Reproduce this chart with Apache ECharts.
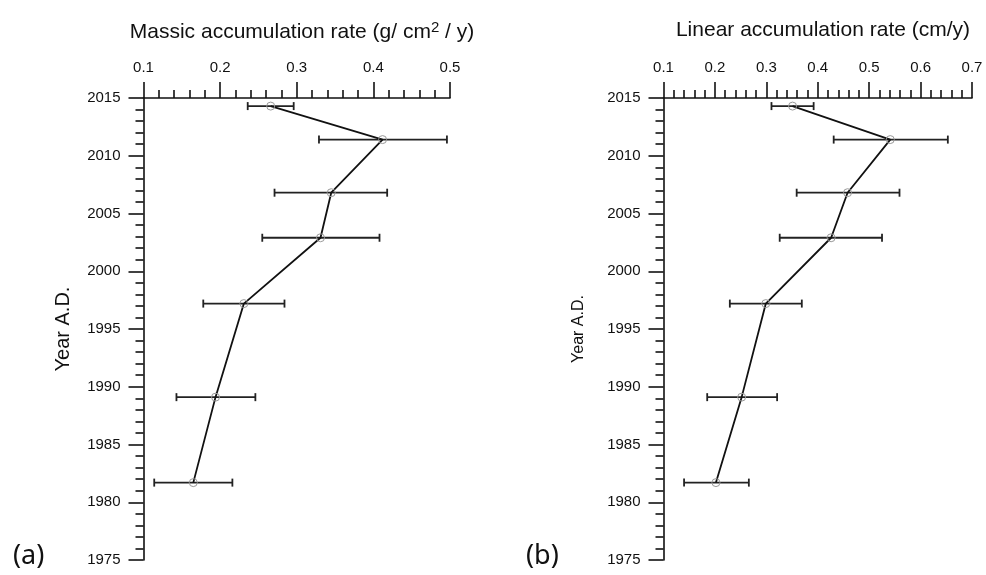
<!DOCTYPE html>
<html>
<head>
<meta charset="utf-8">
<script src="https://cdn.jsdelivr.net/npm/echarts@6/dist/echarts.min.js"></script>
<style>
html, body { margin: 0; padding: 0; background: #fff; }
#main { width: 986px; height: 575px; }
</style>
</head>
<body>
<div id="main"></div>
<script>
// sampling years (A.D.)
var years = [2014.3, 2011.4, 2006.8, 2002.9, 1997.2, 1989.1, 1981.7];

// (a) massic accumulation rate, g/cm2/y
var massic = [0.266, 0.412, 0.345, 0.331, 0.231, 0.194, 0.165];
var massicLow = [0.236, 0.329, 0.271, 0.255, 0.178, 0.143, 0.114];
var massicHigh = [0.296, 0.496, 0.418, 0.408, 0.284, 0.246, 0.216];

// (b) linear accumulation rate, cm/y
var linear = [0.351, 0.541, 0.458, 0.426, 0.299, 0.252, 0.202];
var linearLow = [0.310, 0.431, 0.359, 0.326, 0.229, 0.185, 0.140];
var linearHigh = [0.392, 0.653, 0.559, 0.525, 0.369, 0.321, 0.266];

var FONT = 'Liberation Sans';

function pairs(xs) {
    return xs.map(function (v, i) { return [v, years[i]]; });
}
function bars(lo, hi) {
    return lo.map(function (v, i) { return [v, hi[i], years[i]]; });
}

function errorBar(params, api) {
    var y = api.value(2);
    var a = api.coord([api.value(0), y]);
    var b = api.coord([api.value(1), y]);
    var h = 4;
    var st = { stroke: '#222', lineWidth: 1.8 };
    return {
        type: 'group',
        children: [
            { type: 'line', shape: { x1: a[0], y1: a[1], x2: b[0], y2: b[1] }, style: st },
            { type: 'line', shape: { x1: a[0], y1: a[1] - h, x2: a[0], y2: a[1] + h }, style: st },
            { type: 'line', shape: { x1: b[0], y1: b[1] - h, x2: b[0], y2: b[1] + h }, style: st }
        ]
    };
}

function xAx(idx, max) {
    return {
        type: 'value', gridIndex: idx, position: 'top',
        min: 0.1, max: max, interval: 0.1,
        axisLine: { show: true, onZero: false, lineStyle: { color: '#111', width: 1.6 } },
        axisTick: { show: true, length: 16, lineStyle: { color: '#111', width: 1.6 } },
        minorTick: { show: true, splitNumber: 5, length: 8, lineStyle: { color: '#111', width: 1.6 } },
        splitLine: { show: false },
        axisLabel: {
            margin: 23, color: '#111', fontFamily: FONT, fontSize: 15,
            formatter: function (v) { return v.toFixed(1); }
        }
    };
}

function yAx(idx, nameSize, gap) {
    return {
        type: 'value', gridIndex: idx,
        min: 1975, max: 2015, interval: 5,
        name: 'Year A.D.', nameLocation: 'middle', nameRotate: 90, nameGap: gap,
        nameTextStyle: { color: '#111', fontFamily: FONT, fontSize: nameSize },
        axisLine: { show: true, onZero: false, lineStyle: { color: '#111', width: 1.6 } },
        axisTick: { show: true, length: 15, lineStyle: { color: '#111', width: 1.6 } },
        minorTick: { show: true, splitNumber: 5, length: 8, lineStyle: { color: '#111', width: 1.6 } },
        splitLine: { show: false },
        axisLabel: {
            margin: 23, color: '#111', fontFamily: FONT, fontSize: 15,
            formatter: function (v) { return String(v); }
        }
    };
}

var myChart = echarts.init(document.getElementById('main'));
var option = {
    animation: false,
    backgroundColor: '#fff',
    title: [
        {
            text: 'Massic accumulation rate (g/ cm{sup|2} / y)',
            left: 297, top: 15, textAlign: 'center',
            textStyle: {
                fontFamily: FONT, fontSize: 21, fontWeight: 'normal', color: '#111',
                rich: { sup: { fontFamily: FONT, fontSize: 15, color: '#111', padding: [0, 0, 10, 0] } }
            }
        },
        {
            text: 'Linear accumulation rate (cm/y)',
            left: 818, top: 15, textAlign: 'center',
            textStyle: { fontFamily: FONT, fontSize: 21, fontWeight: 'normal', color: '#111' }
        },
        {
            text: '(a)', left: 8, top: 538,
            textStyle: { fontFamily: 'Noto Sans', fontSize: 27, fontWeight: 'normal', color: '#111' }
        },
        {
            text: '(b)', left: 521, top: 538,
            textStyle: { fontFamily: 'Noto Sans', fontSize: 27, fontWeight: 'normal', color: '#111' }
        }
    ],
    grid: [
        { left: 143.5, top: 98, width: 306.5, height: 462 },
        { left: 663.5, top: 98, width: 308.5, height: 462 }
    ],
    xAxis: [xAx(0, 0.5), xAx(1, 0.7)],
    yAxis: [yAx(0, 20, 70), yAx(1, 16, 77)],
    series: [
        {
            type: 'custom', xAxisIndex: 0, yAxisIndex: 0,
            renderItem: errorBar, data: bars(massicLow, massicHigh), z: 1
        },
        {
            type: 'line', xAxisIndex: 0, yAxisIndex: 0, data: pairs(massic),
            symbol: 'circle', symbolSize: 8,
            itemStyle: { color: 'rgba(0,0,0,0)', borderColor: '#999', borderWidth: 1 },
            lineStyle: { color: '#111', width: 1.8 }, z: 2
        },
        {
            type: 'custom', xAxisIndex: 1, yAxisIndex: 1,
            renderItem: errorBar, data: bars(linearLow, linearHigh), z: 1
        },
        {
            type: 'line', xAxisIndex: 1, yAxisIndex: 1, data: pairs(linear),
            symbol: 'circle', symbolSize: 8,
            itemStyle: { color: 'rgba(0,0,0,0)', borderColor: '#999', borderWidth: 1 },
            lineStyle: { color: '#111', width: 1.8 }, z: 2
        }
    ]
};
myChart.setOption(option);
</script>
</body>
</html>
